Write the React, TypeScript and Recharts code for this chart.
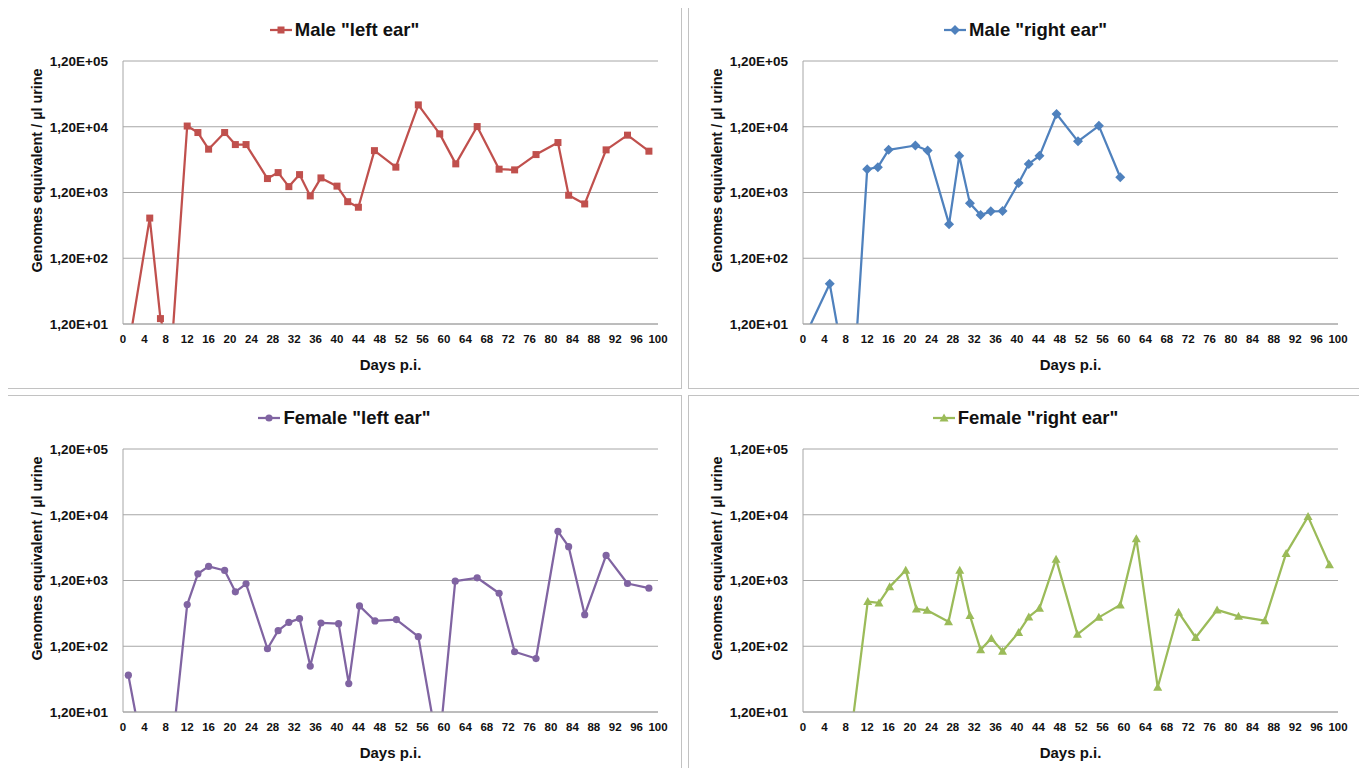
import React from 'react';
import { LineChart, Line, XAxis, YAxis, CartesianGrid } from 'recharts';

// ─── Data (days post infection / genome equivalents per µl urine) ────────────

const maleLeftDays = [1, 5, 7, 9, 12, 14, 16, 19, 21, 23, 27, 29, 31, 33, 35, 37, 40, 42, 44, 47, 51, 55.2, 59.2, 62.2, 66.2, 70.3, 73.2, 77.2, 81.3, 83.3, 86.3, 90.3, 94.3, 98.3];
const maleLeftValues = [5, 490, 14.5, 4, 12300, 9800, 5470, 9800, 6430, 6430, 1955, 2410, 1475, 2245, 1065, 2000, 1500, 870, 716, 5200, 2915, 25800, 9360, 3270, 12080, 2715, 2650, 4530, 6900, 1090, 804, 5340, 8940, 5100];

const maleRightDays = [1, 5, 7, 9, 12, 14, 16, 21, 23.3, 27.3, 29.2, 31.2, 33.2, 35.1, 37.3, 40.3, 42.2, 44.2, 47.4, 51.4, 55.3, 59.3];
const maleRightValues = [10, 49, 6, 0.4, 2710, 2915, 5350, 6225, 5220, 396, 4330, 820, 544, 620, 627, 1675, 3265, 4330, 18750, 7200, 12400, 2050];

const femaleLeftDays = [1, 3, 9, 12, 14, 16, 19, 21, 23, 27, 29, 31, 33, 35, 37, 40.3, 42.2, 44.2, 47.1, 51.1, 55.2, 59, 62.1, 66.2, 70.3, 73.2, 77.2, 81.3, 83.3, 86.3, 90.3, 94.3, 98.3];
const femaleLeftValues = [43.6, 6, 2.5, 516, 1518, 1963, 1705, 806, 1070, 110, 207, 277, 316, 60, 271, 265, 32.5, 493, 291, 305, 168, 2.9, 1170, 1320, 768, 99, 78, 6720, 3920, 363, 2890, 1080, 916];

const femaleRightDays = [9, 12.1, 14.2, 16.2, 19.2, 21.2, 23.2, 27.2, 29.3, 31.2, 33.2, 35.2, 37.3, 40.3, 42.2, 44.2, 47.3, 51.3, 55.3, 59.3, 62.3, 66.3, 70.2, 73.4, 77.4, 81.4, 86.3, 90.3, 94.4, 98.4];
const femaleRightValues = [5.7, 573, 548, 960, 1723, 444, 423, 284, 1723, 351, 106, 158, 101, 195, 335, 453, 2535, 182, 330, 511, 5200, 28.6, 394, 163, 428, 342, 294, 3100, 11250, 2085];

const dayTicks = [0, 4, 8, 12, 16, 20, 24, 28, 32, 36, 40, 44, 48, 52, 56, 60, 64, 68, 72, 76, 80, 84, 88, 92, 96, 100];
const genomeTicks = [12, 120, 1200, 12000, 120000];

const FONT = "'Liberation Sans', Arial, sans-serif";
const PANEL_W = 675;
const PANEL_H = 382;

type MarkerKind = 'square' | 'diamond' | 'circle' | 'triangle';

const toRows = (days: number[], values: number[]) =>
  days.map((d, i) => ({ day: d, value: values[i] }));

const fmtSci = (v: number) => {
  const exp = Math.round(Math.log10(v / 1.2));
  return `1,20E+${String(exp).padStart(2, '0')}`;
};

// ─── Markers ─────────────────────────────────────────────────────────────────

function Marker({ kind, cx, cy, color }: { kind: MarkerKind; cx: number; cy: number; color: string }) {
  if (kind === 'square') return <rect x={cx - 3.5} y={cy - 3.5} width={7} height={7} fill={color} />;
  if (kind === 'diamond')
    return <path d={`M${cx},${cy - 5} L${cx + 5},${cy} L${cx},${cy + 5} L${cx - 5},${cy} Z`} fill={color} />;
  if (kind === 'circle') return <circle cx={cx} cy={cy} r={3.6} fill={color} />;
  return <path d={`M${cx},${cy - 4.5} L${cx + 4.5},${cy + 3.5} L${cx - 4.5},${cy + 3.5} Z`} fill={color} />;
}

// ─── One panel ───────────────────────────────────────────────────────────────

function EarPanel({
  title, days, values, color, marker, left, top, axisW, rightPad,
}: {
  title: string; days: number[]; values: number[]; color: string; marker: MarkerKind;
  left: number; top: number; axisW: number; rightPad: number;
}) {
  const data = toRows(days, values);
  return (
    <div
      style={{
        position: 'absolute', left, top, width: PANEL_W, height: PANEL_H,
        boxSizing: 'border-box', border: '1.5px solid #c2c2c2', background: '#fff',
      }}
    >
      <div
        style={{
          position: 'absolute', left: 0, right: 0, top: 11, display: 'flex',
          justifyContent: 'center', alignItems: 'center', fontFamily: FONT,
          fontWeight: 700, fontSize: 18.5, color: '#111',
        }}
      >
        <svg width={22} height={12} style={{ marginRight: 3 }}>
          <line x1={0} y1={6} x2={22} y2={6} stroke={color} strokeWidth={2.25} />
          <Marker kind={marker} cx={11} cy={6} color={color} />
        </svg>
        <span>{title}</span>
      </div>
      <LineChart
        width={PANEL_W - 3}
        height={PANEL_H - 3}
        data={data}
        margin={{ top: 53, right: rightPad, left: 0, bottom: 33 }}
        style={{ position: 'absolute', left: 0, top: 0 }}
      >
        <CartesianGrid vertical={false} stroke="#a6a6a6" strokeWidth={1} />
        <XAxis
          dataKey="day"
          type="number"
          domain={[0, 100]}
          ticks={dayTicks}
          interval={0}
          height={30}
          tickSize={0}
          tickMargin={11}
          axisLine={{ stroke: '#a6a6a6' }}
          tick={{ fill: '#111', fontSize: 11.5, fontWeight: 700, fontFamily: FONT }}
          allowDataOverflow
          label={{
            content: ({ viewBox }: any) => (
              <text
                x={viewBox.x + viewBox.width / 2}
                y={viewBox.y + 40}
                textAnchor="middle"
                dominantBaseline="central"
                fontFamily={FONT}
                fontWeight={700}
                fontSize={15}
                fill="#111"
              >
                Days p.i.
              </text>
            ),
          }}
        />
        <YAxis
          dataKey="value"
          type="number"
          scale="log"
          domain={[12, 120000]}
          ticks={genomeTicks}
          interval={0}
          width={axisW}
          tickSize={0}
          tickMargin={15}
          tickFormatter={fmtSci}
          axisLine={{ stroke: '#a6a6a6' }}
          tick={{ fill: '#111', fontSize: 13.5, fontWeight: 700, fontFamily: FONT }}
          allowDataOverflow
          label={{
            content: ({ viewBox }: any) => {
              const cy = viewBox.y + viewBox.height / 2 - 22;
              return (
                <text
                  x={axisW - 86}
                  y={cy}
                  transform={`rotate(-90, ${axisW - 86}, ${cy})`}
                  textAnchor="middle"
                  dominantBaseline="central"
                  fontFamily={FONT}
                  fontWeight={700}
                  fontSize={14.4}
                  fill="#111"
                >
                  Genomes equivalent / µl urine
                </text>
              );
            },
          }}
        />
        <Line
          type="linear"
          dataKey="value"
          stroke={color}
          strokeWidth={2.25}
          strokeLinejoin="round"
          isAnimationActive={false}
          activeDot={false}
          dot={(p: any) => <Marker key={`m-${p.index}`} kind={marker} cx={p.cx} cy={p.cy} color={color} />}
        />
      </LineChart>
    </div>
  );
}

export default function App() {
  return (
    <div style={{ position: 'relative', width: 1367, height: 776, margin: -8, overflow: 'hidden', background: '#fff' }}>
      <EarPanel title={'Male "left ear"'} days={maleLeftDays} values={maleLeftValues} color="#C0504D" marker="square" left={7} top={7} axisW={115} rightPad={22} />
      <EarPanel title={'Male "right ear"'} days={maleRightDays} values={maleRightValues} color="#4F81BD" marker="diamond" left={688} top={7} axisW={114} rightPad={23} />
      <EarPanel title={'Female "left ear"'} days={femaleLeftDays} values={femaleLeftValues} color="#8064A2" marker="circle" left={7} top={395} axisW={115} rightPad={22} />
      <EarPanel title={'Female "right ear"'} days={femaleRightDays} values={femaleRightValues} color="#9BBB59" marker="triangle" left={688} top={395} axisW={114} rightPad={23} />
    </div>
  );
}
